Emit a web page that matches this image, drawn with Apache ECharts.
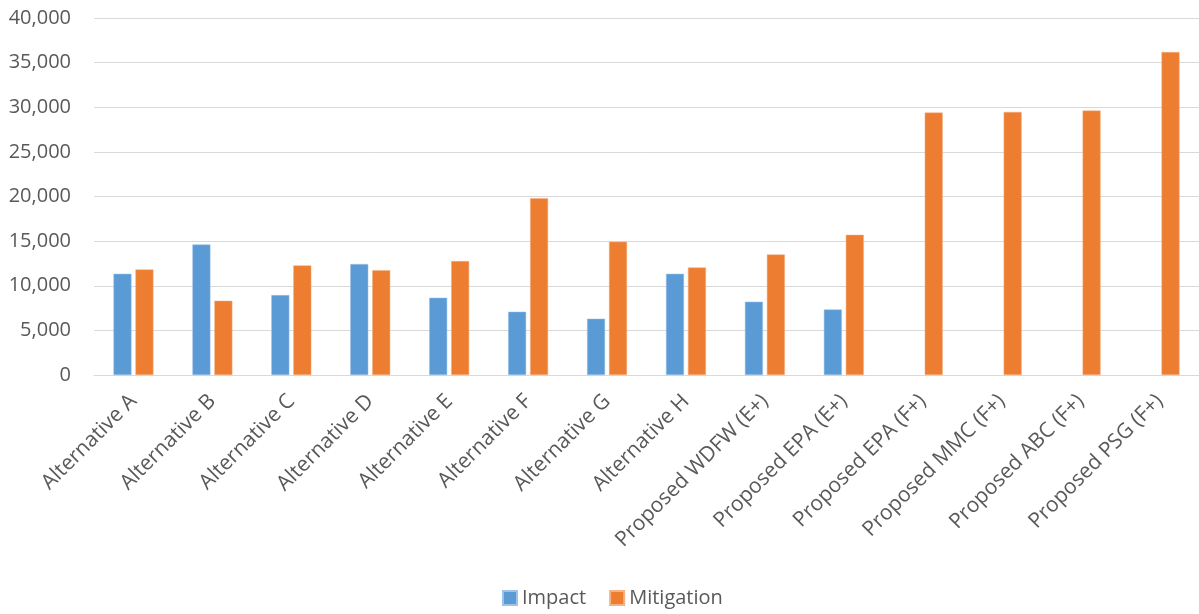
<!DOCTYPE html>
<html>
<head>
<meta charset="utf-8">
<script src="https://cdn.jsdelivr.net/npm/echarts@6/dist/echarts.min.js"></script>
<style>
  html, body { margin: 0; padding: 0; background: #fff; }
  #chart { width: 1199px; height: 614px; }
</style>
</head>
<body>
<div id="chart"></div>
<script>
// 图表数据
const categories = [
  'Alternative A', 'Alternative B', 'Alternative C', 'Alternative D',
  'Alternative E', 'Alternative F', 'Alternative G', 'Alternative H',
  'Proposed WDFW (E+)', 'Proposed EPA (E+)', 'Proposed EPA (F+)',
  'Proposed MMC (F+)', 'Proposed ABC (F+)', 'Proposed PSG (F+)'
]
const impact = [11340, 14630, 8960, 12430, 8660, 7090, 6310, 11340, 8210, 7350, null, null, null, null]
const mitigation = [11830, 8320, 12280, 11750, 12760, 19810, 14930, 12050, 13510, 15710, 29400, 29480, 29630, 36190]
const seriesNames = ['Impact', 'Mitigation']

const textColor = '#595959'
const fontFamily = '"Open Sans", "Liberation Sans", sans-serif'

const chart = echarts.init(document.getElementById('chart'))

chart.setOption({
  animation: false,
  textStyle: { fontFamily },
  grid: { left: 94, right: -8, top: 18, bottom: 239 },
  legend: {
    data: seriesNames,
    left: 502,
    top: 588,
    padding: 0,
    itemWidth: 14,
    itemHeight: 14,
    itemGap: 23,
    icon: 'rect',
    textStyle: { color: textColor, fontSize: 20, fontFamily },
  },
  xAxis: {
    type: 'category',
    data: categories,
    axisTick: { show: false },
    axisLine: { lineStyle: { color: '#d9d9d9', width: 1 } },
    axisLabel: {
      rotate: 45,
      color: textColor,
      fontSize: 21,
      fontFamily,
      margin: 23,
      interval: 0,
    },
  },
  yAxis: {
    type: 'value',
    min: 0,
    max: 40000,
    interval: 5000,
    axisLine: { show: false },
    axisTick: { show: false },
    splitLine: { lineStyle: { color: '#d9d9d9', width: 1 } },
    axisLabel: {
      color: textColor,
      fontSize: 20,
      fontFamily,
      margin: 23,
      formatter: (v) => v.toLocaleString('en-US'),
    },
  },
  series: [
    {
      name: seriesNames[0],
      type: 'bar',
      data: impact,
      barWidth: 18,
      barGap: '22%',
      itemStyle: { color: '#5B9BD5', borderColor: '#9dc3e6', borderWidth: 0.5 },
    },
    {
      name: seriesNames[1],
      type: 'bar',
      data: mitigation,
      barWidth: 18,
      itemStyle: { color: '#ED7D31', borderColor: '#f4b183', borderWidth: 0.5 },
    },
  ],
})
</script>
</body>
</html>
